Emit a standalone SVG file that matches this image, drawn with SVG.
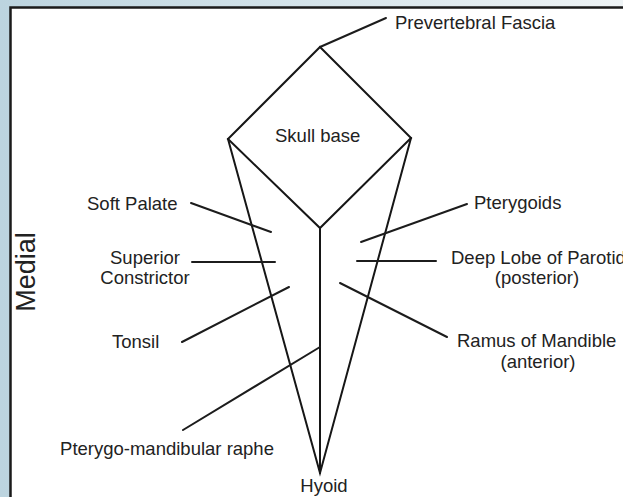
<svg xmlns="http://www.w3.org/2000/svg" width="623" height="497" viewBox="0 0 623 497">
  <defs>
    <linearGradient id="bg" x1="0" y1="0" x2="1" y2="0">
      <stop offset="0" stop-color="#bcd4df"/>
      <stop offset="1" stop-color="#eef3f5"/>
    </linearGradient>
    <style>
      .ln { stroke: #161616; stroke-width: 2; fill: none; stroke-linecap: round; stroke-linejoin: miter; }
      .ld { stroke: #1c1c1c; stroke-width: 2; fill: none; stroke-linecap: round; }
      .t { font-family: "Liberation Sans", Arial, sans-serif; font-size: 18.5px; fill: #222; }
      .m { text-anchor: middle; }
    </style>
  </defs>

  <rect x="0" y="0" width="623" height="497" fill="url(#bg)"/>
  <rect x="10.5" y="7.5" width="640" height="520" fill="#ffffff" stroke="#1a1a1a" stroke-width="2.5"/>

  <g id="skull-base-shape">
    <polygon class="ln" points="320,47 411,138 320,228 228,139"/>
    <polyline class="ln" points="228,139 320,473 411,138"/>
    <line class="ln" x1="320" y1="228" x2="320" y2="473"/>
    <text class="t" x="275" y="142">Skull base</text>
  </g>

  <g id="connectors">
    <line class="ld" x1="320" y1="47" x2="386" y2="18"/>
    <line class="ld" x1="191" y1="203" x2="271" y2="232"/>
    <line class="ld" x1="192" y1="262" x2="275" y2="262"/>
    <line class="ld" x1="182" y1="342" x2="289" y2="287"/>
    <line class="ld" x1="183" y1="430" x2="320" y2="347"/>
    <line class="ld" x1="467" y1="204" x2="361" y2="242"/>
    <line class="ld" x1="357" y1="261" x2="436" y2="261"/>
    <line class="ld" x1="340" y1="283" x2="447" y2="337"/>
  </g>

  <g id="prevertebral-fascia"><text class="t" x="395" y="29">Prevertebral Fascia</text></g>
  <g id="soft-palate"><text class="t" x="87" y="210">Soft Palate</text></g>
  <g id="superior-constrictor">
    <text class="t m" x="145" y="264">Superior</text>
    <text class="t m" x="145" y="284">Constrictor</text>
  </g>
  <g id="tonsil"><text class="t" x="112" y="348">Tonsil</text></g>
  <g id="pterygo-mandibular-raphe"><text class="t m" x="167" y="455">Pterygo-mandibular raphe</text></g>
  <g id="hyoid"><text class="t m" x="324" y="492">Hyoid</text></g>
  <g id="pterygoids"><text class="t" x="474" y="209">Pterygoids</text></g>
  <g id="deep-lobe-of-parotid">
    <text class="t" x="451" y="264">Deep Lobe of Parotid</text>
    <text class="t m" x="537" y="284">(posterior)</text>
  </g>
  <g id="ramus-of-mandible">
    <text class="t" x="457" y="347">Ramus of Mandible</text>
    <text class="t m" x="538" y="368">(anterior)</text>
  </g>
  <g id="medial"><text class="t m" style="font-size:27px" transform="translate(35,272) rotate(-90)">Medial</text></g>
</svg>
